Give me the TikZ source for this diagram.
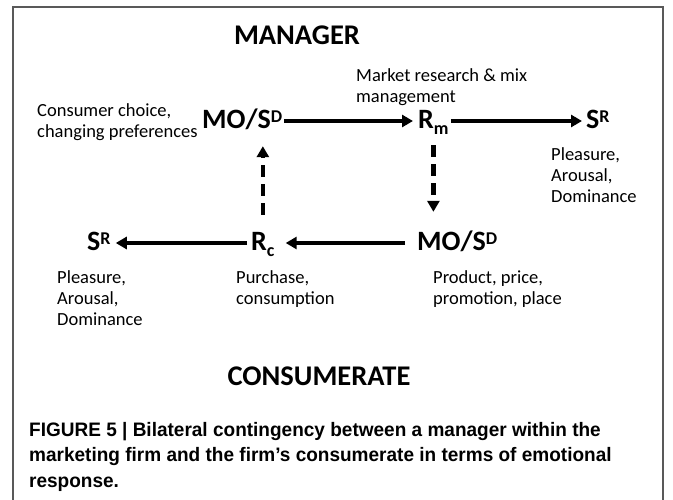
\documentclass[tikz,border=0pt]{standalone}
\usepackage{fontspec}
\setmainfont{Carlito}
\newfontfamily\capfont[FakeStretch=0.975]{Liberation Sans}
\usetikzlibrary{arrows.meta}
\newcommand\supr[1]{\raisebox{6.5pt}{\fontsize{18}{18}\selectfont #1}}
\newcommand\subr[1]{\raisebox{-6pt}{\fontsize{18}{18}\selectfont #1}}
\begin{document}
\begin{tikzpicture}[x=1pt,y=-1pt,
 term/.style={font=\fontsize{28}{30}\selectfont\bfseries, inner sep=0pt, text height=16pt, text depth=0pt, anchor=base west},
 lbl/.style={font=\fontsize{18.5}{21}\selectfont, inner sep=0pt, anchor=north west, align=left},
 ttl/.style={font=\fontsize{28.5}{30}\selectfont\bfseries, inner sep=0pt, anchor=base},
 arr/.style={line width=4pt, -{Triangle[length=11pt,width=12pt]}},
 darr/.style={line width=4.5pt, dash pattern=on 12pt off 7pt, -{Triangle[length=11pt,width=12pt]}},
 captxt/.style={font=\capfont\bfseries\fontsize{19.5}{25.5}\selectfont, inner sep=0pt, anchor=north west, align=left},
 frm/.style={line width=1.5pt, black!65}
]
\useasboundingbox (0,0) rectangle (673,500);
\fill[white] (0,0) rectangle (673,500);
\draw[frm] (13,500) -- (13,7) -- (663,7) -- (663,500);

\node[ttl] (mgr) at (297,45) {MANAGER};
\node[lbl] (mkt) at (356,66.8) {\strut Market research \& mix\\management};
\node[lbl] (cc) at (37,101.8) {\strut Consumer choice,\\changing preferences};
\node[term] (mo1) at (202,129) {MO/S\supr{D}};
\node[term] (rm) at (418,129) {R\subr{m}};
\node[term] (sr1) at (586,129) {S\supr{R}};
\node[lbl] (pad1) at (551,145.3) {\strut Pleasure,\\Arousal,\\Dominance};

\node[term] (sr2) at (87,251) {S\supr{R}};
\node[term] (rc) at (251,251) {R\subr{c}};
\node[term] (mo2) at (417,251) {MO/S\supr{D}};
\node[lbl] (pad2) at (57,268.3) {\strut Pleasure,\\Arousal,\\Dominance};
\node[lbl] (pc) at (236,268.3) {\strut Purchase,\\consumption};
\node[lbl] (ppp) at (433,268.3) {\strut Product, price,\\promotion, place};
\node[ttl] (cons) at (319,385) {CONSUMERATE};

\node[captxt] (caption) at (29,418.15) {\strut FIGURE 5 | Bilateral contingency between a manager within the\\marketing firm and the firm’s consumerate in terms of emotional\\response.};

\draw[arr, shorten <=2pt, shorten >=5pt] (mo1) -- (rm);
\draw[arr, shorten <=2pt, shorten >=4pt] (rm) -- (sr1);
\draw[arr, shorten <=4pt, shorten >=5pt] (rc) -- (sr2);
\draw[arr, shorten <=12pt, shorten >=11pt] (mo2) -- (rc);
\draw[darr, shorten <=16pt, shorten >=23pt] (rm.south) -- (rm.south |- mo2.north);
\draw[darr, shorten <=20pt, shorten >=17pt] (rc.north) -- (rc.north |- mo1.south);
\end{tikzpicture}
\end{document}
